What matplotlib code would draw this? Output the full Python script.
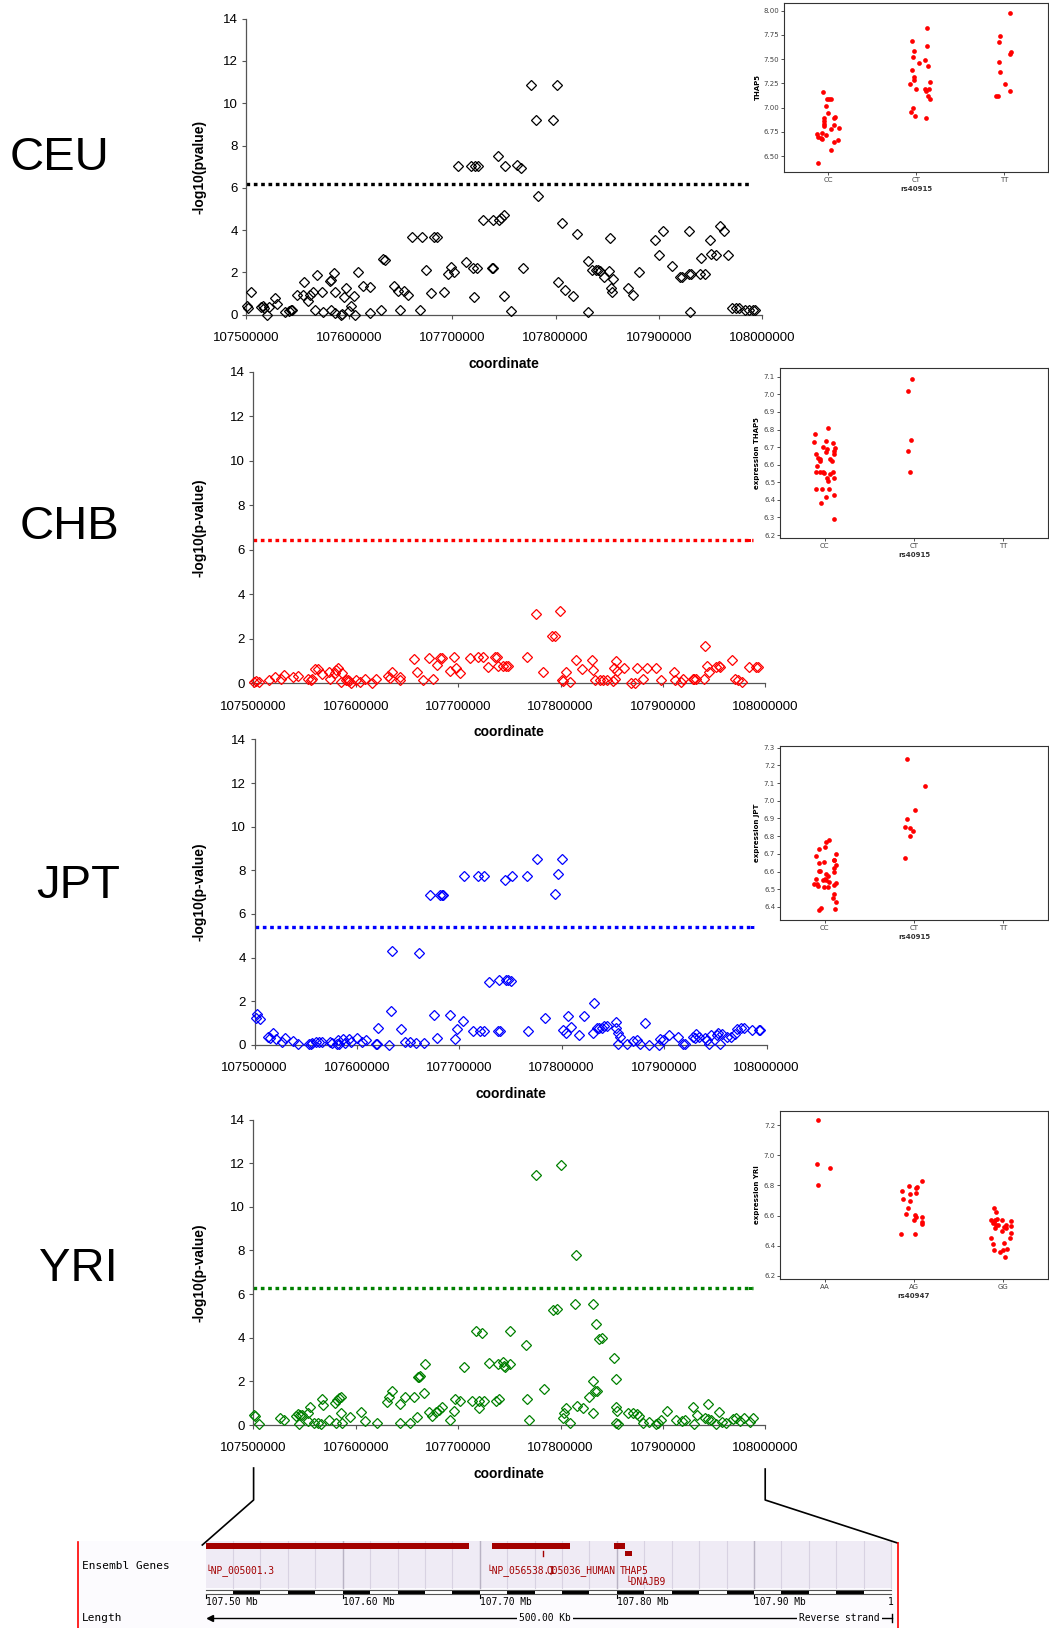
import numpy as np
import matplotlib

matplotlib.use("Agg")
import matplotlib.pyplot as plt
from matplotlib.patches import Rectangle

plt.rcParams["font.family"] = ["Liberation Sans", "DejaVu Sans"]

W, H = 1049, 1628
INSET_FONT = "DejaVu Sans"
MONO = "DejaVu Sans Mono"

# ---- association scans: (position in kb, -log10 p) ----------------------
ceu_pts = [
    (107501, 0.43), (107501.5, 0.32), (107505, 1.06), (107515, 0.36), (107516, 0.40),
    (107517, 0.33), (107520, 0.0), (107522, 0.36), (107528, 0.79), (107530, 0.52),
    (107538, 0.11), (107541.8, 0.16), (107544, 0.20), (107545, 0.24), (107549, 0.95),
    (107555, 0.95), (107556, 1.53), (107560, 0.63), (107562.5, 0.95), (107565, 1.06),
    (107567, 0.24), (107569, 1.89), (107574, 1.06), (107574.5, 0.13), (107581, 1.58),
    (107582, 1.66), (107582.5, 0.20), (107585, 1.97), (107586, 1.06), (107586.5, 0.08),
    (107592, 0.0), (107593, 0.03), (107594.6, 0.84), (107597, 1.26), (107600, 0.19),
    (107602, 0.43), (107605, 0.87), (107605.5, 0.0), (107609, 2.0), (107613, 1.37),
    (107620, 1.31), (107620.5, 0.08), (107631, 0.20), (107633, 2.63), (107635, 2.60),
    (107643, 1.34), (107647.5, 1.10), (107649, 0.20), (107653, 1.10), (107657, 0.95),
    (107661, 3.67), (107668.6, 0.20), (107671, 3.67), (107674, 2.13), (107679, 1.02),
    (107682, 3.67), (107685, 3.67), (107692, 1.09), (107696, 1.94), (107699, 2.25),
    (107702, 2.0), (107705.7, 7.02), (107713, 2.47), (107717.9, 7.02), (107720, 2.20),
    (107720.5, 0.82), (107722, 7.02), (107725, 7.02), (107724, 2.20), (107730, 4.46),
    (107738, 2.22), (107739.5, 2.22), (107739, 4.49), (107743.9, 7.52), (107745, 4.46),
    (107747, 4.56), (107750, 4.70), (107750.5, 7.02), (107750.2, 0.87), (107757, 0.16),
    (107762.5, 7.10), (107766, 6.94), (107768, 2.20), (107776, 10.88), (107781, 9.22),
    (107783, 5.63), (107797, 9.22), (107801, 10.88), (107806, 4.34), (107802, 1.55),
    (107809, 1.15), (107817, 0.90), (107821, 3.82), (107831, 2.52), (107831.5, 0.11),
    (107835, 2.10), (107839, 2.10), (107841, 2.10), (107843, 2.05), (107847, 1.78),
    (107852, 2.05), (107853, 3.61), (107854, 1.26), (107855, 1.07), (107856, 1.69),
    (107870, 1.26), (107875, 0.95), (107881, 2.0), (107896, 3.52), (107900, 2.84),
    (107904, 3.97), (107913, 2.29), (107921, 1.77), (107922.5, 1.77), (107929, 1.94),
    (107931, 1.94), (107929.5, 3.97), (107929.8, 0.13), (107940, 1.94), (107941, 2.68),
    (107945, 1.94), (107950, 3.52), (107951, 2.88), (107955, 2.84), (107959, 4.18),
    (107963, 3.94), (107967, 2.84), (107970.7, 0.32), (107975, 0.32), (107977.5, 0.30),
    (107984, 0.24), (107987.5, 0.24), (107991, 0.24), (107993, 0.24),
]

chb_pts = [
    (107500.7, 0.07), (107503, 0.10), (107505, 0.07), (107515, 0.15), (107521, 0.30),
    (107527, 0.18), (107530, 0.37), (107539, 0.30), (107544, 0.34), (107553, 0.19),
    (107556, 0.15), (107557.5, 0.18), (107560, 0.64), (107563, 0.64), (107567, 0.42),
    (107574, 0.52), (107574.5, 0.18), (107580, 0.48), (107581, 0.60), (107583, 0.67),
    (107587, 0.48), (107586, 0.07), (107590, 0.15), (107592, 0.15), (107593.5, 0.10),
    (107595, 0.03), (107600, 0.15), (107604.5, 0.07), (107609, 0.22), (107616, 0.03),
    (107620, 0.19), (107631, 0.33), (107633, 0.25), (107635, 0.49), (107643, 0.30),
    (107643.5, 0.15), (107657, 1.09), (107660, 0.49), (107666, 0.15), (107671, 1.12),
    (107675, 0.22), (107679, 0.82), (107682, 1.15), (107684, 1.15), (107692, 0.57),
    (107696, 1.18), (107697.5, 0.67), (107702, 0.45), (107712, 1.15), (107719, 1.18),
    (107724, 1.18), (107729, 0.75), (107736, 1.18), (107738, 1.18), (107738.5, 0.78),
    (107744, 0.80), (107746.5, 0.80), (107749, 0.80), (107767, 1.18), (107775.6, 3.13),
    (107783, 0.49), (107792, 2.12), (107794.5, 2.12), (107799, 3.24), (107801, 0.15),
    (107802.6, 0.10), (107805.7, 0.49), (107809, 0.07), (107815, 1.03), (107821, 0.63),
    (107831, 1.03), (107831.5, 0.58), (107834, 0.15), (107838, 0.15), (107841, 0.15),
    (107845, 0.15), (107851, 0.12), (107853, 0.22), (107854, 1.00), (107852.5, 0.67),
    (107855.5, 0.57), (107862, 0.67), (107869, 0.03), (107873, 0.03), (107875, 0.67),
    (107880, 0.19), (107884, 0.67), (107893, 0.67), (107898, 0.15), (107911, 0.49),
    (107912, 0.15), (107918, 0.07), (107920, 0.18), (107929, 0.18), (107930, 0.22),
    (107932.5, 0.18), (107940, 0.18), (107941, 1.67), (107943, 0.78), (107945, 0.49),
    (107952, 0.72), (107954.5, 0.78), (107956, 0.72), (107967, 1.04), (107970, 0.19),
    (107973, 0.15), (107977, 0.07), (107984, 0.72), (107991, 0.75), (107992.5, 0.75),
]

jpt_pts = [
    (107501.1, 1.22), (107502.5, 1.40), (107505.4, 1.17), (107513.4, 0.35), (107515.5, 0.30),
    (107518, 0.53), (107520.6, 0.26), (107527, 0.12), (107530, 0.30), (107537.9, 0.18),
    (107542.6, 0.05), (107553, 0.05), (107554.9, 0.05), (107556, 0.08), (107559.6, 0.12),
    (107562.5, 0.15), (107566, 0.12), (107573.3, 0.15), (107575.8, 0.08), (107580.5, 0.05),
    (107581.2, 0.23), (107583, 0.05), (107586.6, 0.26), (107588.4, 0.08), (107592, 0.26),
    (107594.6, 0.12), (107600.4, 0.30), (107605.4, 0.12), (107609, 0.23), (107618.4, 0.05),
    (107620, 0.05), (107621, 0.79), (107631, 0.0), (107632.9, 1.55), (107634.7, 4.30),
    (107643.3, 0.73), (107647.3, 0.15), (107652.3, 0.15), (107657.8, 0.08), (107660.6, 4.19),
    (107666, 0.08), (107671.8, 6.89), (107675, 1.37), (107678.7, 0.30), (107681.2, 6.89),
    (107683, 6.89), (107684.5, 6.89), (107691.3, 1.37), (107696, 0.27), (107697.5, 0.73),
    (107703.2, 1.07), (107705, 7.74), (107713, 0.61), (107718.4, 7.74), (107720.2, 0.61),
    (107723.8, 7.74), (107724.5, 0.61), (107729.2, 2.87), (107737.5, 0.61), (107739.4, 0.61),
    (107739, 2.96), (107744.8, 7.55), (107745.5, 2.97), (107747.3, 2.97), (107751, 7.74),
    (107750.2, 2.93), (107766.4, 7.74), (107767.1, 0.61), (107775.5, 8.51), (107783.4, 1.25),
    (107793.1, 6.90), (107796, 7.84), (107800.4, 8.51), (107801.4, 0.69), (107804.3, 0.53),
    (107805.8, 1.34), (107809.4, 0.81), (107816.6, 0.46), (107821.7, 1.30), (107830.3, 0.56),
    (107831.4, 1.90), (107834, 0.79), (107836.8, 0.79), (107839.4, 0.77), (107841.2, 0.84),
    (107844, 0.88), (107853, 1.04), (107853.5, 0.79), (107854.9, 0.56), (107855, 0.05),
    (107856.7, 0.38), (107863.5, 0.05), (107869.3, 0.18), (107873.6, 0.23), (107876.5, 0.03),
    (107881.6, 1.02), (107885.2, 0.0), (107894.6, 0.0), (107896.4, 0.27), (107898.9, 0.23),
    (107904.3, 0.46), (107913.4, 0.38), (107918.8, 0.05), (107920.6, 0.05), (107928.5, 0.38),
    (107930.3, 0.30), (107931.4, 0.49), (107934.3, 0.38), (107940.4, 0.30), (107942.2, 0.23),
    (107944, 0.05), (107945.8, 0.46), (107951.3, 0.46), (107953, 0.56), (107954.9, 0.05),
    (107956.7, 0.49), (107961, 0.38), (107965.7, 0.38), (107969.3, 0.49), (107971.1, 0.72),
    (107974.7, 0.79), (107978.3, 0.79), (107985.6, 0.66), (107992.8, 0.66), (107993.9, 0.66),
]

yri_pts = [
    (107500.7, 0.46), (107501.8, 0.41), (107505.4, 0.03), (107526.4, 0.34), (107529.7, 0.23),
    (107541.6, 0.41), (107543.4, 0.49), (107545.2, 0.46), (107547, 0.46), (107544.5, 0.05),
    (107553.5, 0.53), (107555.3, 0.81), (107553.5, 0.18), (107559, 0.08), (107562.6, 0.08),
    (107566.2, 0.03), (107566.9, 1.18), (107567.6, 0.92), (107573.4, 0.23), (107579.6, 0.99),
    (107581.4, 1.15), (107583.2, 1.22), (107585.4, 1.27), (107580.3, 0.08), (107585.7, 0.56),
    (107586.8, 0.08), (107594.8, 0.38), (107604.9, 0.61), (107608.5, 0.20), (107620.4, 0.11),
    (107630.2, 1.07), (107632.7, 1.30), (107634.9, 1.57), (107643.2, 0.96), (107643.6, 0.11),
    (107648.3, 1.30), (107652.6, 0.11), (107656.6, 1.27), (107660.2, 0.38), (107660.6, 2.21),
    (107662, 2.21), (107662.7, 2.24), (107666.4, 1.48), (107667.5, 2.78), (107671.1, 0.58),
    (107674.3, 0.43), (107678.3, 0.61), (107680.8, 0.69), (107684.4, 0.81), (107691.7, 0.23),
    (107696, 0.64), (107697.1, 1.18), (107701.8, 1.11), (107705.4, 2.64), (107713.4, 1.11),
    (107717, 4.32), (107719.9, 1.11), (107720.6, 0.76), (107722.8, 4.24), (107725, 1.11),
    (107729.7, 2.85), (107736.9, 1.10), (107739.4, 1.18), (107738.7, 2.78), (107744.1, 2.87),
    (107745.2, 2.70), (107745.9, 2.64), (107750.3, 2.78), (107750.3, 4.32), (107766.2, 3.69),
    (107766.9, 1.18), (107769.4, 0.23), (107775.6, 11.45), (107783.9, 1.65), (107792.2, 5.27),
    (107796.6, 5.30), (107800.2, 11.94), (107802, 0.31), (107803.1, 0.53), (107805.6, 0.76),
    (107809.2, 0.08), (107813.9, 5.54), (107814.6, 7.79), (107816.5, 0.87), (107821.9, 0.76),
    (107827.3, 1.30), (107831.6, 2.02), (107832, 5.54), (107831.3, 0.53), (107833.8, 1.56),
    (107835.3, 1.56), (107834.5, 4.63), (107837.4, 3.94), (107840.7, 3.97), (107851.9, 3.08),
    (107853.7, 2.09), (107854.4, 0.84), (107855.2, 0.66), (107853.7, 0.11), (107856.2, 0.03),
    (107866, 0.53), (107870.7, 0.53), (107874.3, 0.50), (107876.9, 0.41), (107880.5, 0.08),
    (107885.9, 0.15), (107893.5, 0.05), (107895.3, 0.08), (107897.8, 0.23), (107904, 0.66),
    (107913, 0.23), (107918.8, 0.18), (107921.3, 0.23), (107929.7, 0.84), (107930.4, 0.03),
    (107932.9, 0.46), (107941.2, 0.31), (107943.7, 0.27), (107944.1, 0.95), (107946.7, 0.23),
    (107952.1, 0.03), (107955, 0.58), (107957.5, 0.15), (107961.1, 0.11), (107968.4, 0.27),
    (107970.9, 0.31), (107974.9, 0.18), (107979.2, 0.34), (107984.6, 0.15), (107988.2, 0.34),
]

thresholds = {"CEU": 6.18, "CHB": 6.45, "JPT": 5.40, "YRI": 6.29}
x_ticks = [107500000, 107600000, 107700000, 107800000, 107900000, 108000000]
y_ticks = [0, 2, 4, 6, 8, 10, 12, 14]

# ---- expression vs genotype insets (value, read horizontal jitter) -------
ceu_genos = ["CC", "CT", "TT"]
ceu_expr = [
    [7.16, 7.085, 7.092, 7.09, 7.02, 6.94, 6.89, 6.865, 6.83, 6.81, 6.906, 6.89, 6.82,
     6.78, 6.79, 6.74, 6.727, 6.70, 6.69, 6.675, 6.717, 6.648, 6.665, 6.56, 6.43],
    [7.687, 7.587, 7.525, 7.825, 7.637, 7.457, 7.487, 7.43, 7.384, 7.32, 7.29, 7.26,
     7.24, 7.19, 7.19, 7.175, 7.19, 7.12, 7.09, 7.0, 6.95, 6.916, 6.889],
    [7.98, 7.74, 7.68, 7.577, 7.553, 7.467, 7.364, 7.24, 7.17, 7.116, 7.116],
]
ceu_jit = [
    [-0.06, -0.01, 0.03, 0.01, -0.02, 0.0, -0.04, -0.04, -0.05, -0.05, 0.08, 0.07, 0.07,
     0.03, 0.12, -0.07, -0.12, -0.11, -0.08, -0.07, -0.02, 0.07, 0.11, 0.03, -0.11],
    [-0.04, -0.02, -0.03, 0.12, 0.12, 0.03, 0.10, 0.14, -0.05, -0.02, -0.02, 0.16,
     -0.07, 0.0, 0.10, 0.11, 0.15, 0.14, 0.16, -0.03, -0.06, -0.01, 0.11],
    [0.07, -0.04, -0.06, 0.08, 0.07, -0.06, -0.05, 0.01, 0.07, -0.09, -0.07],
]

chb_genos = ["CC", "CT", "TT"]
chb_expr = [
    [6.777, 6.806, 6.73, 6.733, 6.724, 6.70, 6.69, 6.695, 6.68, 6.67, 6.66, 6.66, 6.638,
     6.63, 6.62, 6.63, 6.62, 6.593, 6.56, 6.56, 6.56, 6.55, 6.56, 6.547, 6.525, 6.525,
     6.51, 6.46, 6.46, 6.46, 6.416, 6.43, 6.384, 6.29],
    [7.09, 7.02, 6.74, 6.68, 6.56],
    [],
]
chb_jit = [
    [-0.11, 0.04, -0.12, 0.01, 0.09, -0.02, 0.03, 0.12, 0.10, 0.01, -0.10, 0.10, -0.07,
     -0.05, -0.05, 0.06, 0.08, -0.09, -0.10, -0.05, -0.02, -0.01, 0.09, 0.06, 0.03, 0.11,
     0.04, -0.10, -0.03, 0.05, 0.01, 0.11, -0.04, 0.10],
    [-0.02, -0.07, -0.03, -0.07, -0.04],
    [],
]

jpt_genos = ["CC", "CT", "TT"]
jpt_expr = [
    [6.78, 6.765, 6.74, 6.73, 6.689, 6.70, 6.668, 6.666, 6.646, 6.653, 6.637, 6.622,
     6.605, 6.605, 6.60, 6.586, 6.575, 6.56, 6.56, 6.555, 6.55, 6.54, 6.53, 6.53, 6.52,
     6.535, 6.525, 6.513, 6.513, 6.473, 6.45, 6.428, 6.394, 6.385, 6.387],
    [7.234, 7.081, 6.95, 6.898, 6.85, 6.846, 6.83, 6.80, 6.676],
    [],
]
jpt_jit = [
    [0.05, 0.01, 0.0, -0.06, -0.10, 0.13, 0.11, 0.10, -0.06, -0.01, 0.13, 0.11, -0.06,
     -0.05, 0.11, 0.02, 0.04, -0.10, 0.0, 0.01, -0.02, 0.05, -0.09, -0.12, -0.08, 0.13,
     0.10, -0.01, 0.04, 0.10, 0.09, 0.13, -0.04, -0.06, 0.12],
    [-0.08, 0.12, 0.01, -0.08, -0.10, -0.05, -0.01, -0.05, -0.10],
    [],
]

yri_genos = ["AA", "AG", "GG"]
yri_expr = [
    [7.235, 6.942, 6.917, 6.80],
    [6.83, 6.796, 6.76, 6.785, 6.787, 6.74, 6.75, 6.71, 6.695, 6.65, 6.61, 6.605, 6.594,
     6.57, 6.588, 6.56, 6.545, 6.48, 6.48],
    [6.65, 6.627, 6.57, 6.55, 6.56, 6.57, 6.54, 6.58, 6.52, 6.54, 6.57, 6.525, 6.54,
     6.52, 6.565, 6.53, 6.50, 6.485, 6.45, 6.452, 6.41, 6.42, 6.374, 6.36, 6.37, 6.38,
     6.325],
]
yri_jit = [
    [-0.07, -0.09, 0.06, -0.07],
    [0.09, -0.06, -0.13, 0.02, 0.03, -0.04, 0.02, -0.12, -0.04, -0.07, -0.09, 0.01, 0.02,
     0.0, 0.09, 0.09, 0.09, -0.14, 0.01],
    [-0.10, -0.08, -0.14, -0.12, -0.11, -0.09, -0.08, -0.07, -0.09, -0.06, -0.02, 0.01,
     0.03, 0.03, 0.09, 0.09, -0.01, 0.09, -0.14, 0.08, -0.12, 0.01, -0.10, -0.04, 0.0,
     0.04, 0.02],
]

# ---- Ensembl gene track (Mb) ---------------------------------------------
gene_start = [107.500, 107.709, 107.798]
gene_end = [107.692, 107.766, 107.806]
gene_labels = ["\u2514NP_005001.3", "\u2514NP_056538.1", "Q05036_HUMAN", "THAP5", "\u2514DNAJB9"]
gene_label_x = [107.4996, 107.7052, 107.749, 107.8022, 107.806]
gene_label_row = [0, 0, 0, 0, 1]
scale_ticks = [107.50, 107.60, 107.70, 107.80, 107.90]

fig = plt.figure(figsize=(W / 100, H / 100), dpi=100)
fig.patch.set_facecolor("white")


def px_axes(x0, y0, x1, y1):
    return fig.add_axes([x0 / W, 1 - y1 / H, (x1 - x0) / W, (y1 - y0) / H])


def assoc(rect, pts, color, thr, ylab):
    ax = px_axes(*rect)
    kb, lp = zip(*pts)
    ax.plot(np.array(kb) * 1000, lp, ls="none", marker="D", ms=4.8, mfc="none",
            mec=color, mew=0.9, clip_on=False, zorder=3)
    ax.axhline(thr, xmin=0, xmax=0.976, color=color, lw=2.4, ls=(0, (1.1, 1.1)), zorder=2)
    ax.set_xlim(x_ticks[0], x_ticks[-1])
    ax.set_ylim(0, 14)
    ax.set_xticks(x_ticks)
    ax.set_xticklabels([str(t) for t in x_ticks])
    ax.set_yticks(y_ticks)
    ax.patch.set_alpha(0)
    for s in ("top", "right"):
        ax.spines[s].set_visible(False)
    for s in ("left", "bottom"):
        ax.spines[s].set_color("#555555")
        ax.spines[s].set_linewidth(0.9)
    ax.tick_params(length=3, width=0.8, color="#555555", labelsize=9.5, labelcolor="black")
    ax.tick_params(axis="x", pad=9.5)
    ax.tick_params(axis="y", pad=3)
    w, h = rect[2] - rect[0], rect[3] - rect[1]
    ax.text(0.5, -49 / h, "coordinate", transform=ax.transAxes, ha="center",
            va="center", fontsize=10, fontweight="bold")
    ax.text(-(rect[0] - 199.4) / w, 0.5, ylab, transform=ax.transAxes, ha="center",
            va="center", rotation=90, fontsize=10, fontweight="bold")
    return ax


def inset(rect, genos, expr, jit, ylim, yticks, yfmt, ylab, xlab):
    ax = px_axes(*rect)
    for i, (vals, offs) in enumerate(zip(expr, jit)):
        if vals:
            ax.plot(i + np.array(offs), vals, ls="none", marker="o", ms=3.4,
                    color="#ff0000", mec="none", zorder=3)
    ax.set_xlim(-0.5, 2.5)
    ax.set_ylim(*ylim)
    ax.set_xticks(range(len(genos)))
    ax.set_xticklabels(genos, fontfamily=INSET_FONT)
    ax.set_yticks(yticks)
    ax.set_yticklabels([yfmt % t for t in yticks], fontfamily=INSET_FONT)
    for s in ax.spines.values():
        s.set_color("#333333")
        s.set_linewidth(0.8)
    ax.tick_params(length=2, width=0.6, color="#333333", labelsize=5, labelcolor="#444444", pad=1.5)
    w, h = rect[2] - rect[0], rect[3] - rect[1]
    ax.text(-(rect[0] - 757.5) / w, 0.5, ylab, transform=ax.transAxes, ha="center",
            va="center", rotation=90, fontsize=5, fontweight="bold", family=INSET_FONT)
    ax.text(0.5, -17 / h, xlab, transform=ax.transAxes, ha="center", va="center",
            fontsize=5, fontweight="bold", family=INSET_FONT, color="#333333")
    return ax


# ---- main association panels ---------------------------------------------
assoc((246, 18.7, 762, 314.7), ceu_pts, "black", thresholds["CEU"], "-log10(pvalue)")
assoc((253.4, 371.8, 765.4, 683.4), chb_pts, "#ff0000", thresholds["CHB"], "-log10(p-value)")
assoc((254.5, 739.5, 766.5, 1044.8), jpt_pts, "#0000ff", thresholds["JPT"], "-log10(p-value)")
assoc((253.4, 1119.6, 765.4, 1425), yri_pts, "#008000", thresholds["YRI"], "-log10(p-value)")

# ---- expression insets ----------------------------------------------------
inset((784, 3, 1048, 172), ceu_genos, ceu_expr, ceu_jit, (6.335, 8.08),
      [6.50, 6.75, 7.00, 7.25, 7.50, 7.75, 8.00], "%.2f", "THAP5", "rs40915")
inset((780, 368, 1048, 538), chb_genos, chb_expr, chb_jit, (6.183, 7.15),
      [6.2, 6.3, 6.4, 6.5, 6.6, 6.7, 6.8, 6.9, 7.0, 7.1], "%.1f", "expression THAP5", "rs40915")
inset((780, 746, 1048, 920), jpt_genos, jpt_expr, jpt_jit, (6.326, 7.31),
      [6.4, 6.5, 6.6, 6.7, 6.8, 6.9, 7.0, 7.1, 7.2, 7.3], "%.1f", "expression JPT", "rs40915")
inset((780, 1111, 1048, 1279), yri_genos, yri_expr, yri_jit, (6.18, 7.293),
      [6.2, 6.4, 6.6, 6.8, 7.0, 7.2], "%.1f", "expression YRI", "rs40947")

# ---- Ensembl genes strip --------------------------------------------------
ens = px_axes(77, 1541, 899, H)
ens.set_xlim(107.4062, 108.0058)
ens.set_ylim(H, 1541)
ens.set_facecolor("#fcfbfe")
for s in ens.spines.values():
    s.set_visible(False)
ens.set_xticks([])
ens.set_yticks([])
ens.add_patch(Rectangle((107.5, 1541), 0.5, 47, fc="#efebf5", ec="none", zorder=0))
for g in np.arange(107.52, 108.0, 0.02):
    ens.plot([g, g], [1541, 1588], color="#d8d2e2", lw=0.8, zorder=1)
for g in scale_ticks[1:]:
    ens.plot([g, g], [1541, 1588], color="#b9b3c4", lw=1.0, zorder=1)
for s0, s1 in zip(gene_start, gene_end):
    ens.add_patch(Rectangle((s0, 1542.5), s1 - s0, 6.5, fc="#a30000", ec="none", zorder=3))
ens.add_patch(Rectangle((107.806, 1551), 0.005, 5, fc="#a30000", ec="none", zorder=3))
ens.plot([107.746, 107.746], [1550.5, 1555.5], color="#a30000", lw=1.0, zorder=3)
for lab, gx, row in zip(gene_labels, gene_label_x, gene_label_row):
    ens.text(gx, 1571 + 11 * row, lab, ha="left", va="center", fontsize=6.9,
             family=MONO, color="#a30000", zorder=4)
ens.text(107.4095, 1566, "Ensembl Genes", ha="left", va="center", fontsize=8,
         family=MONO, color="black")

# scale bar: alternating 20 kb blocks
for k, s0 in enumerate(np.arange(107.50, 108.0, 0.02)):
    ens.add_patch(Rectangle((s0, 1589.5), 0.02, 4.5, fc="white" if k % 2 == 0 else "black",
                            ec="none", zorder=3))
ens.plot([107.5, 108.0], [1589.5, 1589.5], color="#555555", lw=0.8, zorder=4)
ens.plot([107.5, 108.0], [1594, 1594], color="#555555", lw=0.8, zorder=4)
for t in scale_ticks:
    ens.plot([t, t], [1594, 1598], color="black", lw=0.8)
    ens.text(t, 1602, f"{t:.2f} Mb", ha="left", va="center", fontsize=6.9, family=MONO)
ens.text(107.998, 1602, "1", ha="left", va="center", fontsize=6.9, family=MONO)

ens.text(107.4095, 1618, "Length", ha="left", va="center", fontsize=8, family=MONO)
ens.plot([107.506, 108.001], [1618, 1618], color="black", lw=1.0, zorder=2)
ens.plot([107.503], [1618], marker="<", ms=5, color="black", zorder=3)
ens.plot([108.001, 108.001], [1614, 1622], color="black", lw=1.0, zorder=3)
ens.text(107.7475, 1618, "500.00 Kb", ha="center", va="center", fontsize=6.9, family=MONO,
         zorder=4, bbox=dict(boxstyle="square,pad=0.25", fc="#fcfbfe", ec="none"))
ens.text(107.933, 1618, "Reverse strand", ha="left", va="center", fontsize=6.9, family=MONO,
         zorder=4, bbox=dict(boxstyle="square,pad=0.2", fc="#fcfbfe", ec="none"))

# ---- overlay: population names, connectors, red frame lines ---------------
over = px_axes(0, 0, W, H)
over.set_xlim(0, W)
over.set_ylim(H, 0)
over.axis("off")
over.set_zorder(5)

for name, (tx, ty) in {"CEU": (59, 158), "CHB": (70, 527), "JPT": (78, 886), "YRI": (78, 1269)}.items():
    over.text(tx, ty, name, ha="center", va="center", fontsize=34)

over.plot([253.6, 253.6, 202.3], [1468, 1500, 1545], color="black", lw=1.2)
over.plot([765.2, 765.2, 897.5], [1469, 1500, 1543], color="black", lw=1.2)
over.plot([77.7, 77.7], [1542, H], color="#ff0000", lw=1.2)
over.plot([898, 898], [1543, H], color="#ff0000", lw=1.2)

# small series keys left of the insets
for (sx, sy), col in zip([(749.7, 540), (752, 927), (750.7, 1288)], ["#ff0000", "#0000ff", "#008000"]):
    over.add_patch(Rectangle((sx - 1.5, sy - 1.5), 3, 3, fc=col, ec="none"))

fig.savefig("out.png", dpi=100, facecolor="white")
